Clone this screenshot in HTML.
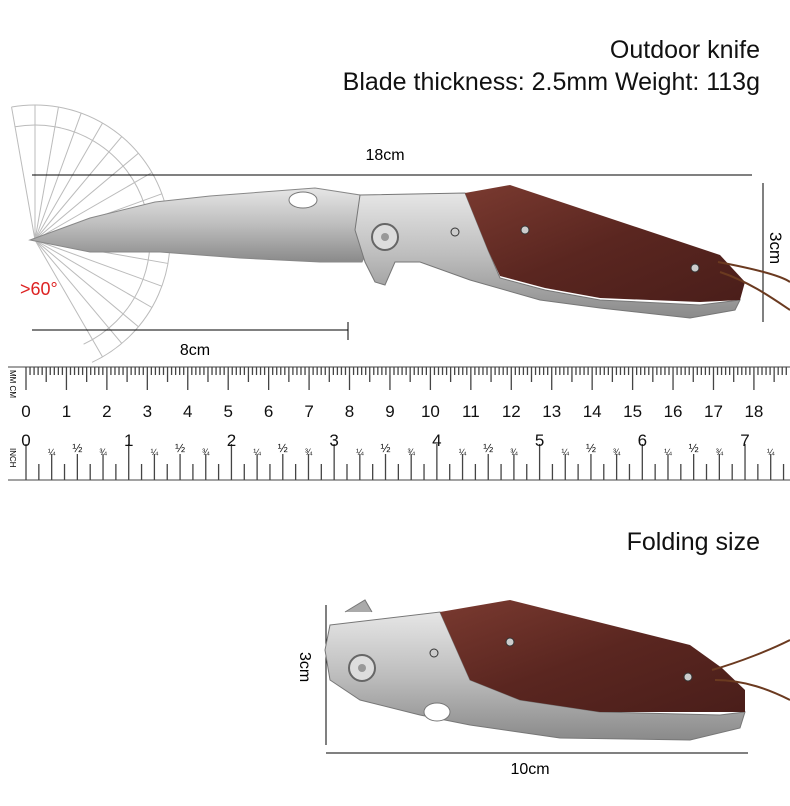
<!DOCTYPE html><html><head><meta charset="utf-8"><style>
body{margin:0;width:790px;height:806px;background:#fff;position:relative;overflow:hidden;font-family:"Liberation Sans","DejaVu Sans",sans-serif}
.t{position:absolute;color:#111;white-space:nowrap}
</style></head><body>
<div class="t" style="right:30px;top:36px;font-size:25px">Outdoor knife</div>
<div class="t" style="right:30px;top:68px;font-size:25px">Blade thickness: 2.5mm Weight: 113g</div>
<div class="t" style="right:30px;top:528px;font-size:25px">Folding size</div>
<svg width="790" height="806" style="position:absolute;left:0;top:0" id="s">
<defs>
<linearGradient id="steel" x1="0" y1="0" x2="0" y2="1"><stop offset="0" stop-color="#e6e6e6"/><stop offset=".5" stop-color="#bdbdbd"/><stop offset="1" stop-color="#8a8a8a"/></linearGradient>
<linearGradient id="wood" x1="0" y1="0" x2="1" y2="1"><stop offset="0" stop-color="#7a3a30"/><stop offset=".5" stop-color="#5a2620"/><stop offset="1" stop-color="#4a1e1a"/></linearGradient>
</defs>
<g id="prot" stroke="#bbb" fill="none" stroke-width="1"></g>
<line x1="32" y1="175" x2="752" y2="175" stroke="#000"/>
<text x="385" y="160" font-size="16" text-anchor="middle">18cm</text>
<line x1="763" y1="183" x2="763" y2="322" stroke="#000"/>
<text x="770" y="232" font-size="17" transform="rotate(90 770 232)">3cm</text>
<line x1="32" y1="330" x2="348" y2="330" stroke="#000"/>
<line x1="348" y1="322" x2="348" y2="340" stroke="#000"/>
<text x="195" y="355" font-size="16" text-anchor="middle">8cm</text>
<text x="20" y="295" font-size="18" fill="#d22">&gt;60°</text>
<path d="M30,240 L90,218 L155,202 L210,196 L315,188 L360,195 L372,240 L362,262 L345,262 L320,262 L240,258 L160,252 L90,252 Z" fill="url(#steel)" stroke="#888"/>
<ellipse cx="303" cy="200" rx="14" ry="8" fill="#fff" stroke="#777"/>
<path d="M360,195 L465,193 L488,250 L500,278 L545,290 L600,300 L700,305 L740,300 L735,310 L690,318 L600,308 L540,300 L470,280 L420,262 L395,262 L385,285 L375,282 L365,262 L355,230 Z" fill="url(#steel)" stroke="#777"/>
<path d="M465,193 L510,185 L720,255 L745,282 L740,300 L700,302 L600,298 L545,288 L500,276 L488,250 Z" fill="url(#wood)"/>
<circle cx="385" cy="237" r="13" fill="#ddd" stroke="#666" stroke-width="2"/><circle cx="385" cy="237" r="4" fill="#999"/>
<circle cx="455" cy="232" r="4" fill="#ccc" stroke="#333"/><circle cx="525" cy="230" r="4" fill="#ccc" stroke="#333"/><circle cx="695" cy="268" r="4" fill="#ccc" stroke="#333"/>
<path d="M718,262 C750,268 780,275 790,282 M720,272 C750,282 775,300 790,310" stroke="#6b3a20" stroke-width="2" fill="none"/>
<g id="rul" stroke="#444" stroke-width="1.3"></g>
<line x1="8" y1="367" x2="790" y2="367" stroke="#444"/>
<line x1="8" y1="480" x2="790" y2="480" stroke="#444"/>
<text x="10" y="370" font-size="8" transform="rotate(90 10 370)">MM CM</text>
<text x="10" y="448" font-size="8" transform="rotate(90 10 448)">INCH</text>
<line x1="326" y1="605" x2="326" y2="745" stroke="#000"/>
<text x="300" y="652" font-size="16" transform="rotate(90 300 652)">3cm</text>
<line x1="326" y1="753" x2="748" y2="753" stroke="#000"/>
<text x="530" y="774" font-size="16" text-anchor="middle">10cm</text>
<path d="M330,625 L440,612 L470,680 L520,700 L600,712 L720,715 L745,712 L740,728 L690,740 L560,738 L470,725 L420,715 L360,700 L330,680 L325,650 Z" fill="url(#steel)" stroke="#777"/>
<path d="M440,612 L510,600 L690,645 L722,668 L745,690 L745,712 L600,712 L520,700 L470,680 Z" fill="url(#wood)"/>
<ellipse cx="437" cy="712" rx="13" ry="9" fill="#fff" stroke="#777"/>
<path d="M345,612 L365,600 L372,612" fill="#aaa" stroke="#777"/>
<circle cx="362" cy="668" r="13" fill="#ddd" stroke="#666" stroke-width="2"/><circle cx="362" cy="668" r="4" fill="#999"/>
<circle cx="434" cy="653" r="4" fill="#ccc" stroke="#333"/><circle cx="510" cy="642" r="4" fill="#ccc" stroke="#333"/><circle cx="688" cy="677" r="4" fill="#ccc" stroke="#333"/>
<path d="M712,670 C740,662 770,650 790,640 M715,680 C745,680 770,690 790,700" stroke="#6b3a20" stroke-width="2" fill="none"/>
</svg>
<script>
var ns="http://www.w3.org/2000/svg",r=document.getElementById("rul"),s=document.getElementById("s");
function L(g,a,b,c,d){var l=document.createElementNS(ns,"line");l.setAttribute("x1",a);l.setAttribute("y1",b);l.setAttribute("x2",c);l.setAttribute("y2",d);g.appendChild(l);}
function T(x,y,t,fs){var e=document.createElementNS(ns,"text");e.setAttribute("x",x);e.setAttribute("y",y);e.setAttribute("font-size",fs);e.setAttribute("text-anchor","middle");e.setAttribute("fill","#111");e.textContent=t;s.appendChild(e);}
var cm=40.44;
for(var i=0;i<=190;i++){var x=26+i*cm/10;if(x>790)break;var h=i%10==0?23:(i%5==0?15:8);L(r,x,367,x,367+h);if(i%10==0)T(x,417,i/10,17);}
var inch=cm*2.54;var fr={2:"¼",4:"½",6:"¾"};
for(var j=0;j<=64;j++){var x=26+j*inch/8;if(x>790)break;var k=j%8;var h=k==0?36:(k%2==0?26:16);L(r,x,480,x,480-h);if(k==0)T(x,446,j/8,17);else if(fr[k])T(x,k==4?452:455,fr[k],k==4?12:9);}
var p=document.getElementById("prot"),cx=35,cy=240,R=135;
var a0=-100*Math.PI/180,a1=65*Math.PI/180;
var a=document.createElementNS(ns,"path");a.setAttribute("d","M"+(cx+R*Math.cos(a0))+","+(cy+R*Math.sin(a0))+" A"+R+","+R+" 0 0 1 "+(cx+R*Math.cos(a1))+","+(cy+R*Math.sin(a1)));p.appendChild(a);
var a2=document.createElementNS(ns,"path");a2.setAttribute("d","M"+(cx+(R-20)*Math.cos(a0))+","+(cy+(R-20)*Math.sin(a0))+" A"+(R-20)+","+(R-20)+" 0 0 1 "+(cx+(R-20)*Math.cos(a1))+","+(cy+(R-20)*Math.sin(a1)));p.appendChild(a2);
for(var d=-100;d<=65;d+=10){var t=d*Math.PI/180;L(p,cx,cy,cx+R*Math.cos(t),cy+R*Math.sin(t));}
</script>
</body></html>
